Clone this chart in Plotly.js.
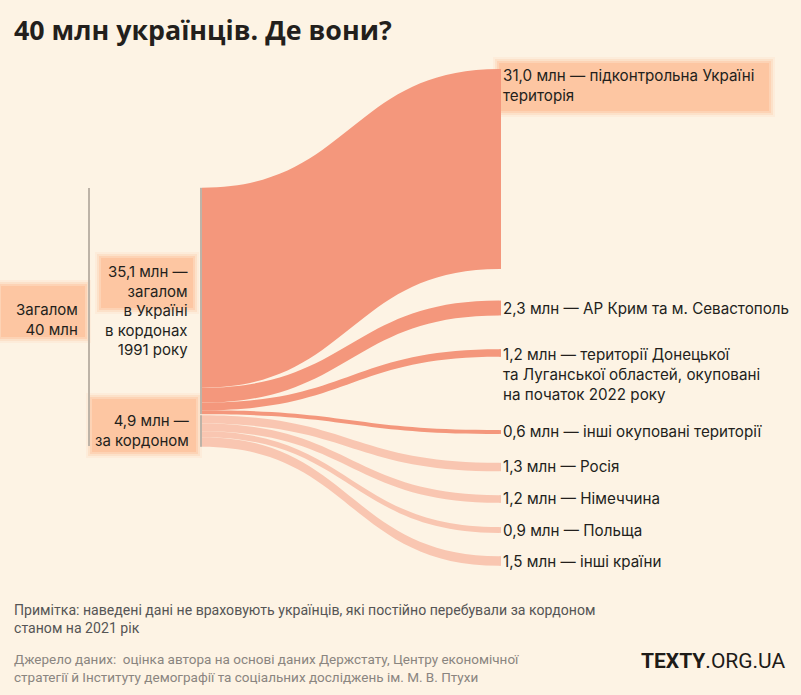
<!DOCTYPE html>
<html>
<head>
<meta charset="utf-8">
<script src="https://cdn.plot.ly/plotly-3.0.1.min.js"></script>
<style>html,body{margin:0;padding:0;background:#fdf3e4;}#chart{width:801px;height:695px;}</style>
</head>
<body>
<div id="chart"></div>
<script>
// ---- data ----
var totalLabel = 'Загалом';
var groupNames = ['загалом<br>в Україні<br>в кордонах<br>1991 року', 'за кордоном'];
var groupValues = [35.1, 4.9];
var targetNames = [
  'підконтрольна Україні<br>територія',
  'АР Крим та м. Севастополь',
  'території Донецької<br>та Луганської областей, окуповані<br>на початок 2022 року',
  'інші окуповані території',
  'Росія',
  'Німеччина',
  'Польща',
  'інші країни'
];
var targetValues = [31.0, 2.3, 1.2, 0.6, 1.3, 1.2, 0.9, 1.5];
var targetGroup = [0, 0, 0, 0, 1, 1, 1, 1];

// ---- layout (pixel positions) ----
var W = 801, H = 695;
var domTop = 60, domBottom = 580;
var nodeXpx = [89, 201, 201, 500, 500, 500, 500, 500, 500, 500, 500];
var nodeYpx = [317, 301, 431, 169, 308, 353, 432, 467, 499, 530, 561];
var targetLabelYpx = [76, 308, 355, 432, 466, 498, 530, 561];

var mainColor = '#f4977c', lightColor = '#f9c6b1', grayColor = '#bdb3a7';
var boxColor = '#fdc6a2';

function fmt(v){ return v.toFixed(1).replace('.', ','); }
function px(x){ return x / W; }
function py(y){ return 1 - y / H; }
var domH = domBottom - domTop;

var nNodes = 3 + targetValues.length;
var src = [], tgt = [], val = [], lcol = [];
for (var g = 0; g < groupValues.length; g++) {
  src.push(0); tgt.push(1 + g); val.push(groupValues[g]); lcol.push('rgba(0,0,0,0)');
}
for (var i = 0; i < targetValues.length; i++) {
  src.push(1 + targetGroup[i]); tgt.push(3 + i); val.push(targetValues[i]);
  lcol.push(targetGroup[i] === 0 ? mainColor : lightColor);
}
var nodeColors = [grayColor, grayColor, grayColor];
for (var i = 0; i < targetValues.length; i++) nodeColors.push(targetGroup[i] === 0 ? mainColor : lightColor);

var nodeX = nodeXpx.map(function(x){ return x / W; });
var nodeY = nodeYpx.map(function(y){ return (y - domTop) / domH; });
var labels = []; for (var i = 0; i < nNodes; i++) labels.push('');

var total = groupValues[0] + groupValues[1];
var ky = 6.45;
var pad = (domH - ky * total) / (targetValues.length - 1);

var trace = {
  type: 'sankey',
  arrangement: 'fixed',
  domain: {x: [0, 1], y: [1 - domBottom / H, 1 - domTop / H]},
  hoverinfo: 'none',
  node: {
    label: labels, x: nodeX, y: nodeY, pad: pad, thickness: 2,
    color: nodeColors, line: {width: 0}, hoverinfo: 'none'
  },
  link: {source: src, target: tgt, value: val, color: lcol, hoverinfo: 'none'}
};

var FONT = 'Inter, "Noto Sans", sans-serif';
var ann = [];
ann.push({text: '<b>40 млн українців. Де вони?</b>', x: px(12), y: py(30), xanchor: 'left', yanchor: 'middle', showarrow: false, font: {family: '"Open Sans", sans-serif', size: 26.8, color: '#231f1c'}});

// left labels
ann.push({text: totalLabel + '<br>' + Math.round(total) + ' млн', x: px(80), y: py(319), xanchor: 'right', yanchor: 'middle', align: 'right', showarrow: false, font: {family: FONT, size: 15, color: '#231f1c'}});
ann.push({text: fmt(groupValues[0]) + ' млн —<br>' + groupNames[0], x: px(190), y: py(310), xanchor: 'right', yanchor: 'middle', align: 'right', showarrow: false, font: {family: FONT, size: 15, color: '#231f1c'}});
ann.push({text: fmt(groupValues[1]) + ' млн —<br>' + groupNames[1], x: px(191), y: py(430.5), xanchor: 'right', yanchor: 'middle', align: 'right', showarrow: false, font: {family: FONT, size: 15, color: '#231f1c'}});

// right labels
for (var i = 0; i < targetValues.length; i++) {
  var txt = fmt(targetValues[i]) + ' млн — ' + targetNames[i];
  var nLines = txt.split('<br>').length;
  var cy = targetLabelYpx[i] + (nLines - 1) * 19.5 / 2;
  ann.push({text: txt, x: px(501), y: py(cy), xanchor: 'left', yanchor: 'middle', align: 'left', showarrow: false, font: {family: FONT, size: 15.2, color: '#231f1c'}});
}

// footer
ann.push({text: 'Примітка: наведені дані не враховують українців, які постійно перебували за кордоном<br>станом на 2021 рік', x: px(12), y: py(619), xanchor: 'left', yanchor: 'middle', align: 'left', showarrow: false, font: {family: 'Roboto, sans-serif', size: 14.1, color: '#555'}});
ann.push({text: 'Джерело даних:  оцінка автора на основі даних Держстату, Центру економічної<br>стратегії й Інституту демографії та соціальних досліджень ім. М. В. Птухи', x: px(12), y: py(668), xanchor: 'left', yanchor: 'middle', align: 'left', showarrow: false, font: {family: 'Roboto, sans-serif', size: 13.5, color: '#8a8580'}});
ann.push({text: '<b>TEXTY</b>.ORG.UA', x: px(788), y: py(661), xanchor: 'right', yanchor: 'middle', showarrow: false, font: {family: 'Roboto, sans-serif', size: 21, color: '#1e1b18'}});

// soft label boxes
var boxes = [[0, 285, 86, 338], [100, 257, 194, 309], [91, 398, 197, 453], [498, 62, 770, 112]];
var shapes = [];
boxes.forEach(function(b){
  [[5, 0.15], [3, 0.3], [1, 0.5], [-1, 1]].forEach(function(s){
    shapes.push({type: 'rect', xref: 'paper', yref: 'paper', layer: 'below',
      x0: px(b[0] - s[0]), x1: px(b[2] + s[0]), y0: py(b[3] + s[0]), y1: py(b[1] - s[0]),
      fillcolor: boxColor, opacity: s[1], line: {width: 0}});
  });
});

var layout = {
  width: W, height: H,
  margin: {l: 0, r: 0, t: 0, b: 0},
  paper_bgcolor: '#fdf3e4', plot_bgcolor: '#fdf3e4',
  annotations: ann, shapes: shapes,
  showlegend: false
};
Plotly.newPlot('chart', [trace], layout, {displayModeBar: false, staticPlot: true});
</script>
</body>
</html>
